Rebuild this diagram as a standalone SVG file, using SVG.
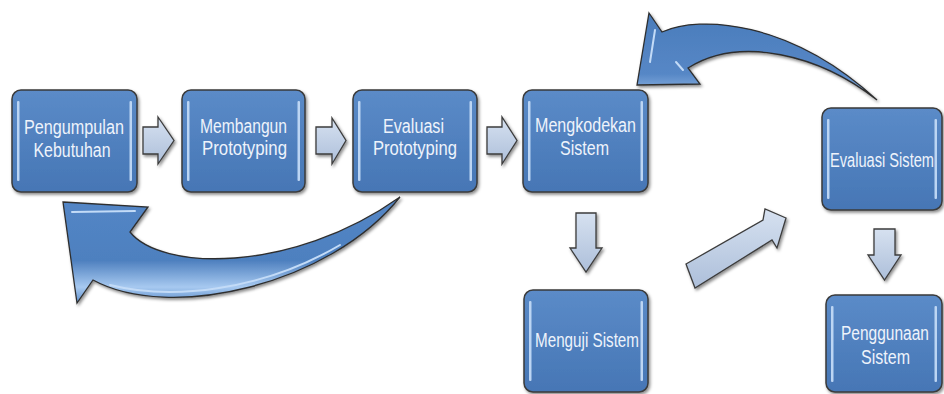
<svg xmlns="http://www.w3.org/2000/svg" width="944" height="394" viewBox="0 0 944 394">
<defs>
<linearGradient id="boxG" x1="0" y1="0" x2="0" y2="1">
<stop offset="0" stop-color="#5b8bc8"/>
<stop offset="1" stop-color="#4676b5"/>
</linearGradient>
<linearGradient id="arrG" x1="0" y1="0" x2="0" y2="1">
<stop offset="0" stop-color="#d6e1f0"/>
<stop offset="1" stop-color="#adbfda"/>
</linearGradient>
<linearGradient id="curveTop" x1="0" y1="0" x2="0" y2="1">
<stop offset="0" stop-color="#4a7cbb"/>
<stop offset="0.7" stop-color="#5687c6"/>
<stop offset="1" stop-color="#9cc0ea"/>
</linearGradient>
<linearGradient id="curveBot" x1="0" y1="0" x2="0" y2="1">
<stop offset="0" stop-color="#5386c6"/>
<stop offset="0.6" stop-color="#4e80bf"/>
<stop offset="0.85" stop-color="#a7c9f0"/>
<stop offset="1" stop-color="#5e8fcc"/>
</linearGradient>
<filter id="sh" x="-10%" y="-10%" width="125%" height="125%">
<feDropShadow dx="1.5" dy="2" stdDeviation="1.5" flood-color="#000" flood-opacity="0.45"/>
</filter>
</defs>
<style>
.box{fill:url(#boxG);stroke:#3a3a3a;stroke-width:1.5;filter:url(#sh)}
.bar{fill:#bcd5f3}
.lbl{font-family:"Liberation Sans",Arial,sans-serif;font-size:16px;fill:#eef3fb;text-anchor:middle}
.arr{fill:url(#arrG);stroke:#3c3c3c;stroke-width:1.3;stroke-linejoin:miter;filter:url(#sh)}
.curve{stroke:#2e2e2e;stroke-width:1.3;stroke-linejoin:miter;filter:url(#sh)}
.hl{fill:none;stroke:#c3dbf7;stroke-width:2;stroke-linecap:round}
</style>
<rect width="944" height="394" fill="#ffffff"/>

<g id="connectors">
<polygon class="arr" points="143,127 158,127 158,117 174,140.5 158,164 158,154 143,154"/>
<polygon class="arr" points="316,127 332,127 332,118 346,140.5 332,164 332,154 316,154"/>
<polygon class="arr" points="487,127 502,127 502,117 517,140.5 502,164 502,154 487,154"/>
<polygon class="arr" points="576,213 596,213 596,248 602,248 586,272 570,248 576,248"/>
<polygon class="arr" points="874,229 895,229 895,255 901,255 884.5,280 868,255 874,255"/>
<polygon class="arr" points="686,264 763,220 765,209 786,218 777,248 772,240 695,288"/>
<path class="curve" fill="url(#curveTop)" d="M649,13 L662,32 C700,15 790,20 877,100 C820,55 740,35 688,68 L700,84 L637,85 Z"/>
<path class="hl" d="M655,30 L650,62"/>
<path class="hl" d="M676,62 L683,70"/>
<path class="curve" fill="url(#curveBot)" d="M63,202 L148,207 L130,232 C160,270 290,275 400,197 C330,285 170,322 93,280 L77,303 Z"/>
<path class="hl" d="M72,212 L135,211"/>
<path class="hl" d="M110,285 C170,300 260,292 340,245"/>
</g>

<g id="n1">
<rect class="box" x="12" y="90" width="125" height="102" rx="9"/>
<rect class="bar" x="17" y="101" width="2.5" height="80" rx="1"/>
<rect class="bar" x="129.5" y="101" width="2.5" height="80" rx="1"/>
<text class="lbl" transform="translate(74,134) scale(1,1.3)" textLength="100" lengthAdjust="spacingAndGlyphs">Pengumpulan</text>
<text class="lbl" transform="translate(72,157) scale(1,1.3)" textLength="77" lengthAdjust="spacingAndGlyphs">Kebutuhan</text>
</g>
<g id="n2">
<rect class="box" x="182" y="90" width="123" height="102" rx="9"/>
<rect class="bar" x="187" y="101" width="2.5" height="80" rx="1"/>
<rect class="bar" x="297.5" y="101" width="2.5" height="80" rx="1"/>
<text class="lbl" transform="translate(243.5,133) scale(1,1.3)" textLength="87" lengthAdjust="spacingAndGlyphs">Membangun</text>
<text class="lbl" transform="translate(244.5,155) scale(1,1.3)" textLength="85" lengthAdjust="spacingAndGlyphs">Prototyping</text>
</g>
<g id="n3">
<rect class="box" x="353" y="90" width="124" height="102" rx="9"/>
<rect class="bar" x="358" y="101" width="2.5" height="80" rx="1"/>
<rect class="bar" x="469.5" y="101" width="2.5" height="80" rx="1"/>
<text class="lbl" transform="translate(413.5,133) scale(1,1.3)" textLength="61" lengthAdjust="spacingAndGlyphs">Evaluasi</text>
<text class="lbl" transform="translate(415,155) scale(1,1.3)" textLength="84" lengthAdjust="spacingAndGlyphs">Prototyping</text>
</g>
<g id="n4">
<rect class="box" x="523" y="90" width="125" height="102" rx="9"/>
<rect class="bar" x="528" y="101" width="2.5" height="80" rx="1"/>
<rect class="bar" x="640.5" y="101" width="2.5" height="80" rx="1"/>
<text class="lbl" transform="translate(585.5,132) scale(1,1.3)" textLength="101" lengthAdjust="spacingAndGlyphs">Mengkodekan</text>
<text class="lbl" transform="translate(584.5,155) scale(1,1.3)" textLength="49" lengthAdjust="spacingAndGlyphs">Sistem</text>
</g>
<g id="n5">
<rect class="box" x="822" y="108" width="120" height="102" rx="9"/>
<rect class="bar" x="827" y="119" width="2.5" height="80" rx="1"/>
<rect class="bar" x="934.5" y="119" width="2.5" height="80" rx="1"/>
<text class="lbl" transform="translate(882,167) scale(1,1.3)" textLength="104" lengthAdjust="spacingAndGlyphs">Evaluasi Sistem</text>
</g>
<g id="n6">
<rect class="box" x="524" y="290" width="124" height="102" rx="9"/>
<rect class="bar" x="529" y="301" width="2.5" height="80" rx="1"/>
<rect class="bar" x="640.5" y="301" width="2.5" height="80" rx="1"/>
<text class="lbl" transform="translate(587,347) scale(1,1.3)" textLength="104" lengthAdjust="spacingAndGlyphs">Menguji Sistem</text>
</g>
<g id="n7">
<rect class="box" x="826" y="295" width="116" height="97" rx="9"/>
<rect class="bar" x="831" y="306" width="2.5" height="76" rx="1"/>
<rect class="bar" x="934.5" y="306" width="2.5" height="76" rx="1"/>
<text class="lbl" transform="translate(885,340) scale(1,1.3)" textLength="88" lengthAdjust="spacingAndGlyphs">Penggunaan</text>
<text class="lbl" transform="translate(885.5,364) scale(1,1.3)" textLength="49" lengthAdjust="spacingAndGlyphs">Sistem</text>
</g>
</svg>
